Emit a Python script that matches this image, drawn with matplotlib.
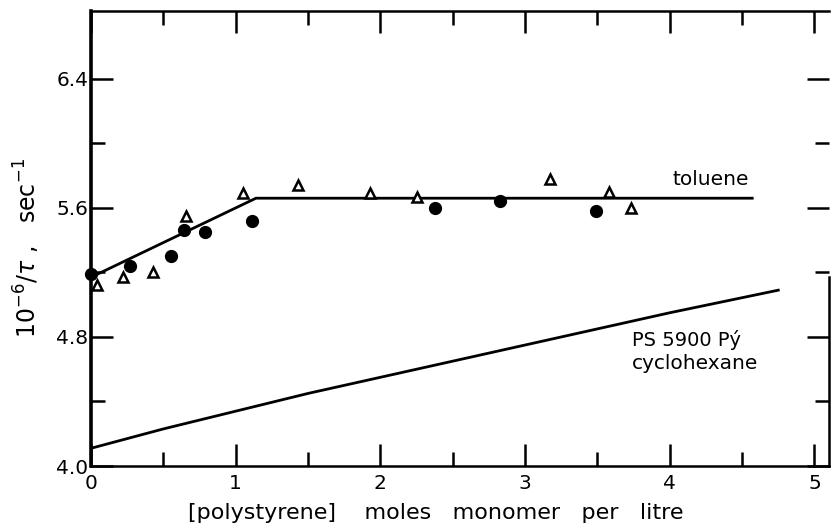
# -*- coding: utf-8 -*-
"""
Fluorescence decay rate vs polystyrene concentration (toluene / cyclohexane)
"""
import matplotlib
matplotlib.use("Agg")
import matplotlib.pyplot as plt

plt.rcParams['font.family'] = ['DejaVu Sans']
plt.rcParams['mathtext.fontset'] = 'dejavusans'

# ============================  Data  ==================
# -- filled circles
circ_x = [0.00, 0.27, 0.55, 0.64, 0.79, 1.11, 2.38, 2.83, 3.49]
circ_y = [5.19, 5.24, 5.30, 5.46, 5.45, 5.52, 5.60, 5.64, 5.58]
# -- open triangles
tri_x = [0.04, 0.22, 0.43, 0.66, 1.05, 1.43, 1.93, 2.25, 3.17, 3.58, 3.73]
tri_y = [5.12, 5.17, 5.20, 5.55, 5.69, 5.74, 5.69, 5.67, 5.78, 5.70, 5.60]
# -- toluene fit (broken line)
tol_x = [0.0, 1.14, 4.57]
tol_y = [5.17, 5.66, 5.66]
# -- cyclohexane line
cyc_x = [0.0, 0.5, 1.0, 1.5, 2.0, 2.5, 3.0, 3.5, 4.0, 4.75]
cyc_y = [4.11, 4.23, 4.34, 4.45, 4.55, 4.65, 4.75, 4.85, 4.95, 5.09]

yticks_major = [4.0, 4.8, 5.6, 6.4]
yticks_minor = [4.4, 5.2, 6.0]
xticks_major = [0, 1, 2, 3, 4, 5]
xticks_minor = [0.5, 1.5, 2.5, 3.5, 4.5]

# =============================    Main program   ======================
fig = plt.figure(figsize=(8.31, 5.26), dpi=100)
ax = fig.add_axes([0.1095, 0.114, 0.888, 0.865])

ax.plot(tol_x, tol_y, color='black', lw=2.0)
ax.plot(cyc_x, cyc_y, color='black', lw=2.0)
ax.plot(circ_x, circ_y, 'o', color='black', ms=8.5, clip_on=False)
ax.plot(tri_x, tri_y, '^', mfc='white', mec='black', mew=1.8, ms=7.5,
        clip_on=False)

ax.text(4.55, 5.72, 'toluene', fontsize=14.5, ha='right', va='bottom')
ax.text(3.74, 4.78, 'PS 5900 P\u00fd', fontsize=14, ha='left', va='center')
ax.text(3.74, 4.635, 'cyclohexane', fontsize=14.5, ha='left', va='center')

ax.set_xlim(0, 5.1)
ax.set_ylim(4.0, 6.82)
ax.set_xticks(xticks_major)
ax.set_xticks(xticks_minor, minor=True)
ax.set_yticks(yticks_major)
ax.set_yticks(yticks_minor, minor=True)
ax.set_xticklabels([str(v) for v in xticks_major])
ax.set_yticklabels([f'{v:.1f}' for v in yticks_major])
ax.tick_params(axis='both', which='major', direction='in', length=16,
               width=1.8, labelsize=14.5, top=True, right=True)
ax.tick_params(axis='both', which='minor', direction='in', length=10,
               width=1.8, top=True, right=True)
ax.tick_params(axis='y', which='major', pad=2)
ax.tick_params(axis='x', which='major', pad=6)

for side in ['top', 'bottom', 'right']:
    ax.spines[side].set_linewidth(1.8)
ax.spines['left'].set_linewidth(2.6)
ax.spines['right'].set_bounds(4.0, 5.17)

ax.set_xlabel('[polystyrene]    moles   monomer   per   litre', fontsize=16,
              va='center')
ax.xaxis.set_label_coords(0.467, -0.103)
ax.set_ylabel('10$^{-6}$/$\\tau$ ,   sec$^{-1}$', fontsize=17, va='center')
ax.yaxis.set_label_coords(-0.087, 0.48)

plt.savefig('out.png', dpi=100)
